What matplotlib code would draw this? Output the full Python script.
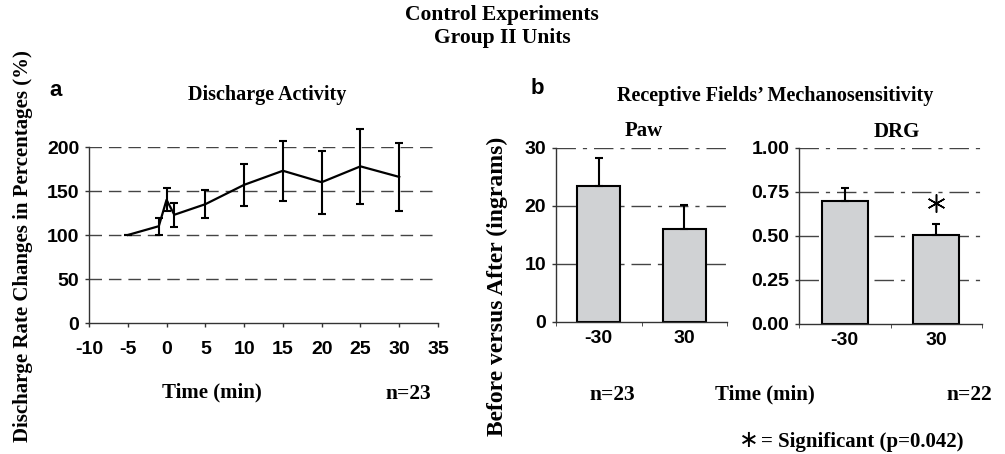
import matplotlib
matplotlib.use('Agg')
import matplotlib.pyplot as plt

# panel a: discharge activity
time_min = [-5, -1, 0, 1, 5, 10, 15, 20, 25, 30]
discharge = [100, 110, 140, 123, 135, 157, 173, 160, 178, 166]
discharge_err = [0, 9.5, 13, 13.5, 16, 23.5, 34, 36, 42.5, 38.5]

# panel b: mechanosensitivity
groups = ['-30', '30']
paw = [23.4, 16.1]
paw_err = [4.9, 4.1]
drg = [0.70, 0.505]
drg_err = [0.075, 0.065]

serif = ['Liberation Serif', 'DejaVu Serif']
sans = ['Liberation Sans', 'DejaVu Sans']
plt.rcParams['font.family'] = sans
plt.rcParams['font.weight'] = 'bold'
plt.rcParams['axes.unicode_minus'] = False

W, H = 1005, 454
fig = plt.figure(figsize=(W / 100, H / 100), dpi=100)


def px(x, y):
    # pixel position (from top-left) -> figure fraction
    return x / W, 1 - y / H


def tidy(ax, xpad):
    for s in ['top', 'right']:
        ax.spines[s].set_visible(False)
    for s in ['left', 'bottom']:
        ax.spines[s].set_color('#333333')
        ax.spines[s].set_linewidth(1)
    ax.tick_params(axis='both', labelsize=14, length=3, width=1, color='#333333')
    ax.tick_params(axis='y', pad=4)
    ax.tick_params(axis='x', pad=xpad)
    for lab in ax.get_xticklabels() + ax.get_yticklabels():
        lab.set_fontweight('bold')


# ---- panel a ----
ax1 = fig.add_axes([89 / W, 1 - 323 / H, 349 / W, 176 / H])
for g in [50, 100, 150, 200]:
    ax1.axhline(g, color='#444444', lw=1, ls=(0, (9, 5)), zorder=0)
ax1.errorbar(time_min, discharge, yerr=discharge_err, color='black', lw=1.6,
             elinewidth=1.5, capsize=3, capthick=1.5, clip_on=False, zorder=3)
ax1.set_xlim(-10, 35)
ax1.set_ylim(0, 200)
ax1.set_xticks(range(-10, 36, 5))
ax1.set_yticks([0, 50, 100, 150, 200])
tidy(ax1, 10)

# ---- panel b: paw ----
ax2 = fig.add_axes([556 / W, 1 - 322 / H, 171 / W, 174 / H])
for g in [10, 20, 30]:
    ax2.axhline(g, color='#444444', lw=1, ls=(0, (14, 5, 3, 5)), zorder=0)
ax2.bar(groups, paw, width=0.5, color='#d0d2d4', edgecolor='black', lw=1.5, zorder=2)
ax2.errorbar(groups, paw, yerr=[[0, 0], paw_err], fmt='none', ecolor='black',
             elinewidth=1.5, capsize=3, capthick=1.5, zorder=3)
ax2.set_xlim(-0.5, 1.5)
ax2.set_ylim(0, 30)
ax2.set_yticks([0, 10, 20, 30])
ax2.set_xticks([-0.5, 0.5, 1.5], minor=True)
tidy(ax2, 6)
ax2.tick_params(axis='x', which='major', length=0)
ax2.tick_params(axis='x', which='minor', length=3, color='#333333')

# ---- panel b: DRG ----
ax3 = fig.add_axes([799 / W, 1 - 324 / H, 183 / W, 176 / H])
for g in [0.25, 0.5, 0.75, 1.0]:
    ax3.axhline(g, color='#444444', lw=1, ls=(0, (14, 5, 3, 5)), zorder=0)
ax3.bar(groups, drg, width=0.5, color='#d0d2d4', edgecolor='black', lw=1.5, zorder=2)
ax3.errorbar(groups, drg, yerr=[[0, 0], drg_err], fmt='none', ecolor='black',
             elinewidth=1.5, capsize=3, capthick=1.5, zorder=3)
ax3.set_xlim(-0.5, 1.5)
ax3.set_ylim(0, 1.0)
ax3.set_yticks([0, 0.25, 0.5, 0.75, 1.0])
ax3.set_yticklabels(['0.00', '0.25', '0.50', '0.75', '1.00'])
ax3.set_xticks([-0.5, 0.5, 1.5], minor=True)
tidy(ax3, 6)
ax3.tick_params(axis='x', which='major', length=0)
ax3.tick_params(axis='x', which='minor', length=3, color='#333333')
# significance star above the 30 min bar
ax3.plot(1, drg[1] + drg_err[1] + 0.12, marker=(6, 2, 0), ms=13, mew=1.1,
         color='black', zorder=4)

# ---- text ----
def label(x, y, s, size, fam=serif, **kw):
    fig.text(*px(x, y), s, ha='center', va='center', fontsize=size,
             fontweight='bold', family=fam, **kw)


label(502, 15, 'Control Experiments', 15.5)
label(502, 38, 'Group II Units', 15.5)
label(56, 90, 'a', 16, sans)
label(537, 88, 'b', 16, sans)
label(267, 95, 'Discharge Activity', 14.5)
label(775, 96, 'Receptive Fields\u2019 Mechanosensitivity', 14.5)
label(644, 131, 'Paw', 15)
label(897, 132, 'DRG', 15)
label(23, 246, 'Discharge Rate Changes in Percentages (%)', 15, rotation=90)
label(497, 286, 'Before versus After (ingrams)', 17, rotation=90)
label(212, 392, 'Time (min)', 15)
label(408, 394, 'n=23', 15.5)
label(612, 395, 'n=23', 15.5)
label(765, 394, 'Time (min)', 15)
label(969, 395, 'n=22', 15.5)
fig.text(*px(749, 440), '\u2217', ha='center', va='center', fontsize=17,
         fontweight='normal', family=['DejaVu Sans'])
fig.text(*px(761, 442), '= Significant (p=0.042)', ha='left', va='center',
         fontsize=15, fontweight='bold', family=serif)

fig.savefig('out.png', dpi=100)
